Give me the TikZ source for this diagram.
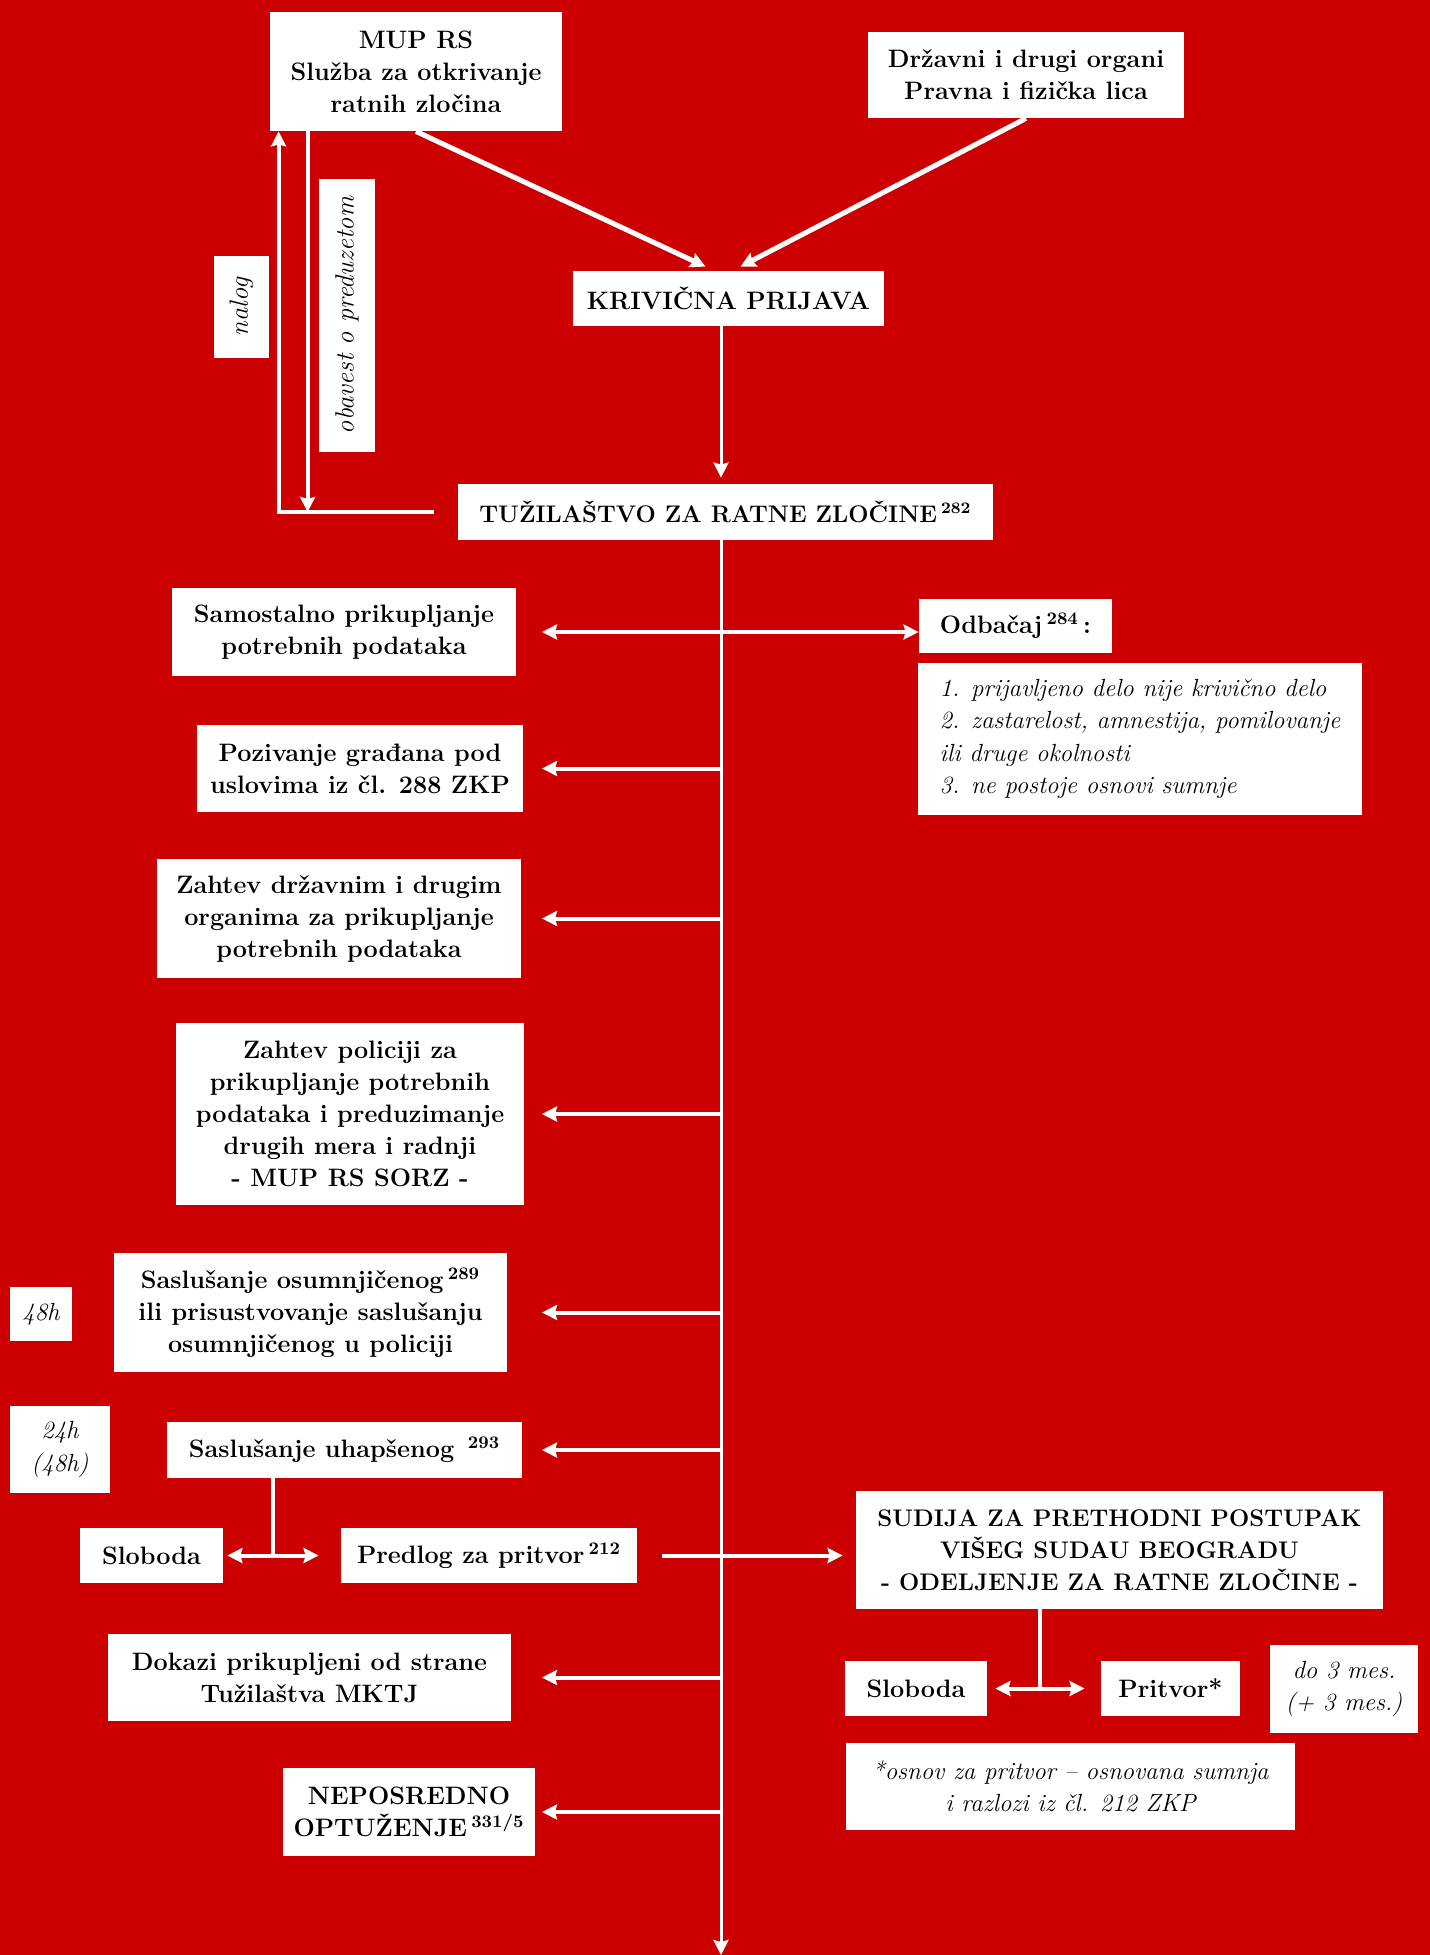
\documentclass[tikz,border=0pt]{standalone}
\usepackage{fontspec}
\usepackage{tikz}
\usetikzlibrary{arrows.meta}
\definecolor{bgred}{RGB}{204,0,0}
\tikzset{>={Stealth[length=7.5pt,width=7.5pt,inset=1pt]}}
\tikzset{box/.style={fill=white, align=center, inner sep=0pt, font=\fontsize{12.6}{16}\selectfont\bfseries},
  capsbox/.style={box, font=\fontsize{12}{16}\selectfont\bfseries},
  note/.style={fill=white, align=center, inner sep=0pt, font=\fontsize{12.4}{16.2}\selectfont\itshape},
  wire/.style={draw=white, line width=2pt}}

\begin{document}
\begin{tikzpicture}[x=0.5pt,y=-0.5pt]

\fill[bgred] (0,0) rectangle (1430,1955);
\useasboundingbox (0,0) rectangle (1430,1955);

\node[box, minimum width=146pt, minimum height=59.5pt] (mup) at (416,71.5) {MUP RS\\Služba za otkrivanje\\ratnih zločina};
\node[box, minimum width=158pt, minimum height=43pt] (drz) at (1026,75) {Državni i drugi organi\\Pravna i fizička lica};
\node[box, minimum width=155.5pt, minimum height=27.5pt] (kp) at (728.5,298.5) {KRIVIČNA PRIJAVA};
\node[capsbox, minimum width=267.5pt, minimum height=28pt] (tuz) at (725.5,512) {TUŽILAŠTVO ZA RATNE ZLOČINE\,\textsuperscript{282}};

\node[note, font=\fontsize{13.2}{16}\selectfont\itshape, rotate=90, minimum width=51pt, minimum height=27.5pt] (nalog) at (241.5,307) {nalog};
\node[note, font=\fontsize{13.2}{16}\selectfont\itshape, rotate=90, minimum width=136.5pt, minimum height=28pt] (obav) at (347,315.5) {obavest o preduzetom};

\node[box, minimum width=172pt, minimum height=44pt] (sam) at (344,632) {Samostalno prikupljanje\\potrebnih podataka};
\node[box, minimum width=96.5pt, minimum height=27pt] (odb) at (1015.5,626) {Odbačaj\,\textsuperscript{284}\,:};
\node[note, align=left, minimum width=222pt, minimum height=76pt] (odblist) at (1140,739) {\mbox{}1. prijavljeno delo nije krivično delo\\\mbox{}2. zastarelost, amnestija, pomilovanje\\\mbox{}ili druge okolnosti\\\mbox{}3. ne postoje osnovi sumnje};
\node[box, minimum width=163pt, minimum height=43.5pt] (poz) at (360,768.5) {Pozivanje građana pod\\uslovima iz čl. 288 ZKP};
\node[box, minimum width=182pt, minimum height=59.5pt] (zdrz) at (339,918.5) {Zahtev državnim i drugim\\organima za prikupljanje\\potrebnih podataka};
\node[box, minimum width=174pt, minimum height=91pt] (zpol) at (350,1114) {Zahtev policiji za\\prikupljanje potrebnih\\podataka i preduzimanje\\drugih mera i radnji\\- MUP RS SORZ -};
\node[box, minimum width=196.5pt, minimum height=59.5pt] (sos) at (310.5,1312.5) {Saslušanje osumnjičenog\,\textsuperscript{289}\\ili prisustvovanje saslušanju\\osumnjičenog u policiji};
\node[note, minimum width=31pt, minimum height=27pt] (h48) at (41,1314) {48h};
\node[note, minimum width=50pt, minimum height=43.5pt] (h24) at (60,1449.5) {24h\\(48h)};
\node[box, minimum width=177.5pt, minimum height=28pt] (suh) at (344.5,1450) {Saslušanje uhapšenog~\,\textsuperscript{293}};
\node[box, minimum width=71.5pt, minimum height=27.5pt] (slo1) at (151.5,1555.5) {Sloboda};
\node[box, minimum width=148pt, minimum height=27.5pt] (pred) at (489,1555.5) {Predlog za pritvor\,\textsuperscript{212}};
\node[capsbox, minimum width=263.5pt, minimum height=59pt] (sud) at (1119.5,1550) {SUDIJA ZA PRETHODNI POSTUPAK\\VIŠEG SUDAU BEOGRADU\\- ODELJENJE ZA RATNE ZLOČINE -};
\node[box, minimum width=71pt, minimum height=27.5pt] (slo2) at (916,1688.5) {Sloboda};
\node[box, minimum width=69.5pt, minimum height=27.5pt] (prit) at (1170.5,1688.5) {Pritvor*};
\node[note, minimum width=74pt, minimum height=44pt] (mes) at (1344,1689) {do 3 mes.\\(+ 3 mes.)};
\node[note, minimum width=224.5pt, minimum height=43.5pt] (osn) at (1070.5,1786.5) {*osnov za pritvor – osnovana sumnja\\i razlozi iz čl. 212 ZKP};
\node[box, minimum width=201.5pt, minimum height=43.5pt] (dok) at (309.5,1677.5) {Dokazi prikupljeni od strane\\Tužilaštva MKTJ};
\node[box, minimum width=126pt, minimum height=44pt] (nep) at (409,1812) {NEPOSREDNO\\OPTUŽENJE\,\textsuperscript{331/5}};

\coordinate (bot) at (721,1955);
\coordinate (tip) at (542,1955);

\draw[wire,->,line width=2.5pt] (mup.south) -- ([xshift=-11.5pt,yshift=2pt]kp.north);
\draw[wire,->,line width=2.5pt] (drz.south) -- ([xshift=6pt,yshift=2pt]kp.north);
\draw[wire,->,line width=1.5pt] (kp.south -| bot) -- ([yshift=3pt]tuz.north -| bot);
\draw[wire,->,line width=1.5pt] (tuz.south -| bot) -- (bot);
\draw[wire,->] ([xshift=-12pt]tuz.west) -| ([xshift=4.5pt]mup.south west);
\draw[wire,->] ([xshift=19pt]mup.south west) -- ([xshift=19pt]mup.south west |- tuz.west);
\draw[wire,<->] (sam.east -| tip) -- (odb.west |- sam.east);
\foreach \n in {poz,zdrz,zpol,sos,suh,dok,nep}
  \draw[wire,->] (\n.east -| bot) -- (\n.east -| tip);
\draw[wire] ([xshift=-36pt]suh.south) -- ([xshift=-36pt]suh.south |- slo1.east);
\draw[wire,<->] ([xshift=2pt]slo1.east) -- ([xshift=-11pt]pred.west);
\draw[wire,->] ([xshift=12.5pt]pred.east) -- ([xshift=-6.5pt]sud.west |- pred.east);
\draw[wire] ([xshift=-40pt]sud.south) -- ([xshift=-40pt]sud.south |- slo2.east);
\draw[wire,<->] ([xshift=4pt]slo2.east) -- ([xshift=-8pt]prit.west);

\end{tikzpicture}
\end{document}
